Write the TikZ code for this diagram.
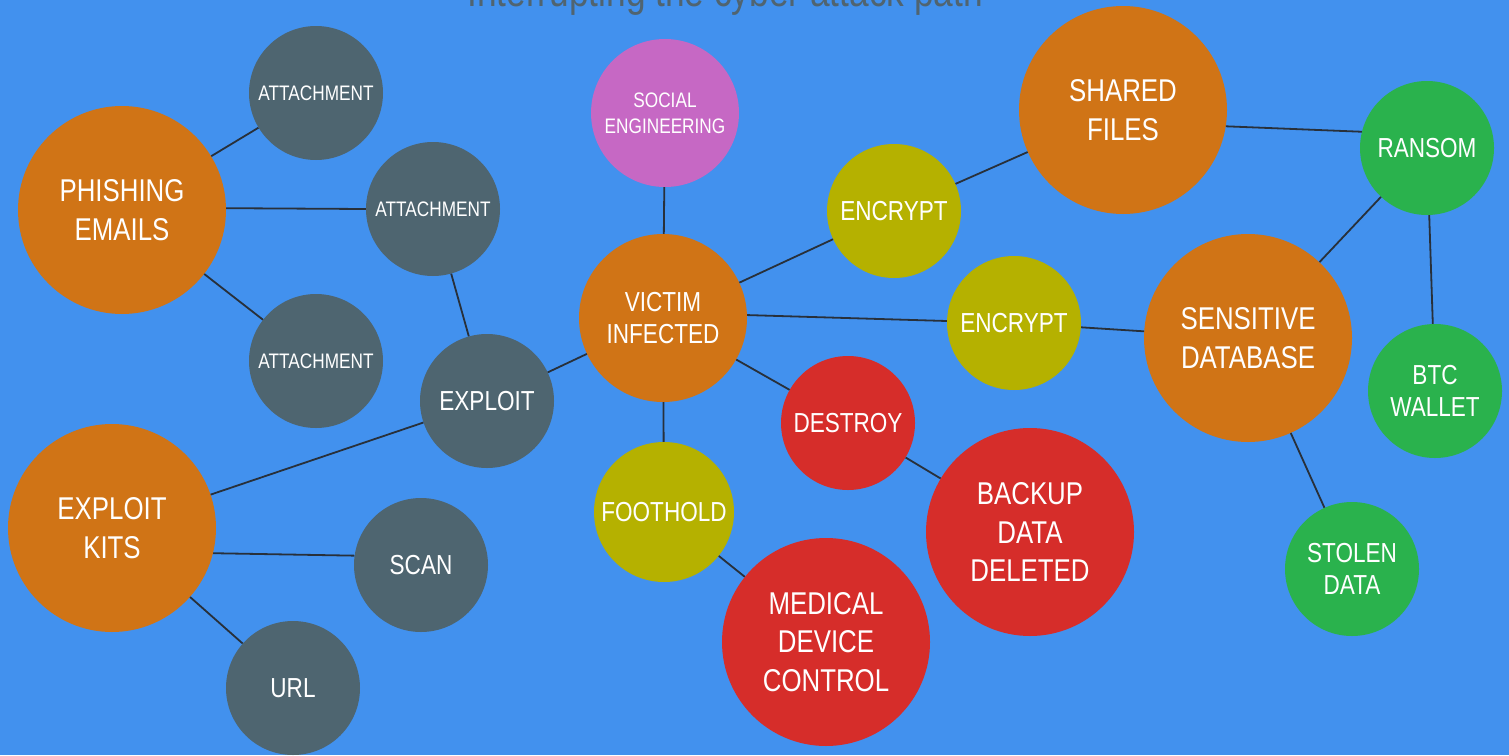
\documentclass[tikz,border=0pt]{standalone}
\usepackage{fontspec}
\newfontfamily\lbl{Liberation Sans}[FakeStretch=0.82]
\definecolor{bg}{RGB}{66,145,238}
\definecolor{orng}{RGB}{208,116,22}
\definecolor{slate}{RGB}{78,101,112}
\definecolor{olive}{RGB}{181,177,0}
\definecolor{rred}{RGB}{214,45,42}
\definecolor{grn}{RGB}{42,178,77}
\definecolor{pnk}{RGB}{198,104,196}
\definecolor{ttl}{RGB}{80,100,112}
\definecolor{edge}{RGB}{40,48,58}
\tikzset{
  bubble/.style={circle, inner sep=0pt, text=white, align=center},
  big/.style={bubble, minimum size=208pt, font=\lbl\fontsize{31.5}{38.5}\selectfont},
  mid/.style={bubble, minimum size=134pt, font=\lbl\fontsize{27.5}{32}\selectfont},
  sml/.style={bubble, minimum size=134pt, font=\lbl\fontsize{21}{26}\selectfont},
  link/.style={draw=edge, line width=1.8pt},
}
\begin{document}
\begin{tikzpicture}[x=1pt,y=-1pt]
\fill[bg] (0,0) rectangle (1509,755);
\useasboundingbox (0,0) rectangle (1509,755);
\node[anchor=base, text=ttl, font=\lbl\fontsize{43}{48}\selectfont] (title) at (725,6) {Interrupting the cyber attack path};

\node[big, fill=orng] (phish) at (122,210) {PHISHING\\EMAILS};
\node[sml, fill=slate] (att1) at (316,93) {ATTACHMENT};
\node[sml, fill=slate] (att2) at (433,209) {ATTACHMENT};
\node[sml, fill=slate] (att3) at (316,361) {ATTACHMENT};
\node[mid, fill=slate] (exploit) at (487,401) {EXPLOIT};
\node[big, fill=orng] (kits) at (112,528) {EXPLOIT\\KITS};
\node[mid, fill=slate] (scan) at (421,565) {SCAN};
\node[mid, fill=slate] (url) at (293,688) {URL};
\node[sml, fill=pnk, minimum size=148pt] (social) at (665,113) {SOCIAL\\ENGINEERING};
\node[mid, fill=orng, minimum size=168pt] (victim) at (663,318) {VICTIM\\INFECTED};
\node[mid, fill=olive, minimum size=140pt] (foothold) at (664,512) {FOOTHOLD};
\node[mid, fill=rred] (destroy) at (848,423) {DESTROY};
\node[big, fill=rred] (medical) at (826,642) {MEDICAL\\DEVICE\\CONTROL};
\node[big, fill=rred] (backup) at (1030,532) {BACKUP\\DATA\\DELETED};
\node[mid, fill=olive] (enc1) at (894,211) {ENCRYPT};
\node[mid, fill=olive] (enc2) at (1014,323) {ENCRYPT};
\node[big, fill=orng] (shared) at (1123,110) {SHARED\\FILES};
\node[big, fill=orng] (sensitive) at (1248,338) {SENSITIVE\\DATABASE};
\node[mid, fill=grn] (ransom) at (1427,148) {RANSOM};
\node[mid, fill=grn] (btc) at (1435,391) {BTC\\WALLET};
\node[mid, fill=grn] (stolen) at (1352,569) {STOLEN\\DATA};

\path[link] (phish) -- (att1);
\path[link] (phish.1) -- (att2.180);
\path[link] (phish) -- (att3);
\path[link] (att2) -- (exploit);
\path[link] (exploit) -- (kits);
\path[link] (exploit) -- (victim);
\path[link] (kits.-14) -- (scan.172);
\path[link] (kits) -- (url);
\path[link] (social) -- (victim);
\path[link] (victim) -- (foothold);
\path[link] (victim) -- (destroy);
\path[link] (victim) -- (enc1);
\path[link] (victim.2) -- (enc2);
\path[link] (foothold) -- (medical);
\path[link] (destroy) -- (backup);
\path[link] (enc1) -- (shared);
\path[link] (enc2) -- (sensitive);
\path[link] (shared.-9) -- (ransom.166);
\path[link] (sensitive) -- (ransom);
\path[link] (ransom) -- (btc);
\path[link] (sensitive) -- (stolen);
\end{tikzpicture}
\end{document}
